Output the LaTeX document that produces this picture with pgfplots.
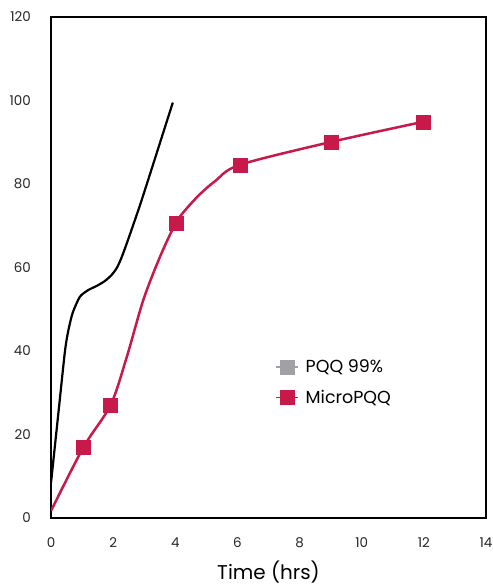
\documentclass[border=0pt]{standalone}
\usepackage{fontspec}
\setmainfont{Poppins}
\usepackage{pgfplots}
\pgfplotsset{compat=1.18}
\definecolor{mred}{RGB}{200,25,75}
\definecolor{mgrey}{RGB}{160,160,165}
\begin{document}
\begin{tikzpicture}
\begin{axis}[
  scale only axis, width=435bp, height=501bp,
  xmin=0, xmax=14, ymin=0, ymax=120,
  xtick={0,2,...,14}, ytick={0,20,...,120},
  major tick length=0pt,
  axis line style={line width=2.5bp, black, line join=miter},
  /pgf/number format/assume math mode=true,
  ticklabel style={font=\fontsize{13.5}{16}\selectfont, text=black!85},
  xticklabel style={anchor=base, inner sep=0pt, yshift=-29bp},
  yticklabel style={anchor=east, inner sep=0pt, xshift=-20bp},
  xlabel={Time (hrs)},
  xlabel style={at={(axis description cs:0.5,0)}, anchor=base, inner sep=0pt, yshift=-61bp, font=\fontsize{20}{24}\selectfont},
  legend style={at={(rel axis cs:0.515,0.32)}, anchor=north west, draw=none, fill=none,
    font=\fontsize{17.5}{21}\selectfont, row sep=12bp, column sep=5bp, inner sep=0pt, cells={anchor=west}},
]
\coordinate (SW) at (rel axis cs:0,0);
% PQQ 99% curve (drawn black)
\addplot[black, line width=2.2bp, smooth, tension=0.4, forget plot] coordinates {
  (0,8.4) (0.25,26) (0.45,40) (0.56,45) (0.7,49.2) (0.93,53) (1.2,54.6) (1.5,55.7)
  (1.74,56.8) (1.95,58.2) (2.11,59.8) (2.25,62) (2.44,65.8) (2.92,76.2) (3.92,99.5)
};
% MicroPQQ curve
\addplot[mred, line width=2.5bp, smooth, tension=0.5, no markers, forget plot] coordinates {
  (0,1.7) (1.04,16.9) (1.92,27.1) (2.44,38.6) (2.97,52.2) (3.51,62.6) (4.02,70.7)
  (4.35,74) (4.8,77.6) (5.3,80.8) (6.08,84.6) (9.03,90.1) (11.98,94.9)
};
\addplot[mred, only marks, mark=square*, mark size=7bp, mark options={fill=mred, draw=none}, forget plot] coordinates {
  (1.04,16.9) (1.92,27.1) (4.02,70.7) (6.08,84.6) (9.03,90.1) (11.98,94.9)
};
\addlegendimage{legend image code/.code={
  \draw[mgrey, line width=1.5bp] (0bp,0bp) -- (22bp,0bp);
  \fill[mgrey] (4bp,-7bp) rectangle (18bp,7bp);}}
\addlegendentry{PQQ 99\%}
\addlegendimage{legend image code/.code={
  \draw[mred, line width=1.5bp] (0bp,0bp) -- (22bp,0bp);
  \fill[mred] (4bp,-7bp) rectangle (18bp,7bp);}}
\addlegendentry{MicroPQQ}
\end{axis}
\pgfresetboundingbox
\path[use as bounding box] ([shift={(-51bp,-68bp)}]SW) rectangle ++(493bp,586bp);
\end{tikzpicture}
\end{document}
